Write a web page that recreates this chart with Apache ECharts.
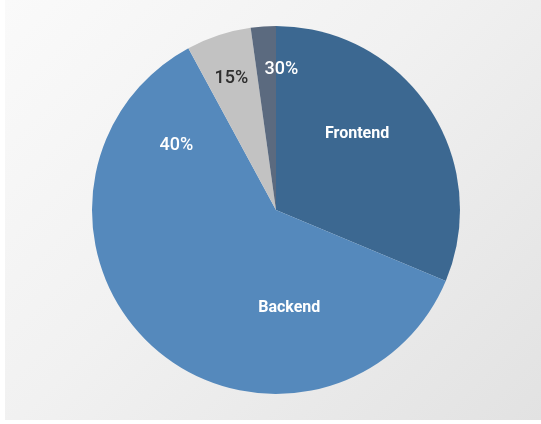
<!DOCTYPE html>
<html>
<head>
<meta charset="utf-8">
<script src="https://cdn.jsdelivr.net/npm/echarts@6/dist/echarts.min.js"></script>
<style>
html,body{margin:0;padding:0;background:#ffffff;width:541px;height:424px;overflow:hidden;}
#chart{position:absolute;left:5px;top:0;width:536px;height:420px;
background:linear-gradient(135deg,#fafafa 0%,#f1f1f1 45%,#e2e2e2 100%);}
</style>
</head>
<body>
<div id="chart"></div>
<script>
// Data
var categories = ['Frontend', 'Backend', 'Other', 'Misc'];
var values = [31.3, 60.8, 5.7, 2.2];
var nameLabels = ['Frontend', 'Backend', '', ''];
var percentLabels = ['', '40%', '15%', '30%'];

// Styles (not data)
var colors = ['#3c6891', '#5589bc', '#c2c2c2', '#5b6a7f'];
var nameOffsets = [[2, -23], [77, 28], [0, 0], [0, 0]];
var pctOffsets = [[0, 0], [-36, -135], [-15, -41], [12, -46]];
var pctColors = ['#ffffff', '#ffffff', '#2e2e2e', '#ffffff'];

var chart = echarts.init(document.getElementById('chart'), null, {renderer: 'canvas'});

var baseData = categories.map(function (c, i) {
  return {name: c, value: values[i], itemStyle: {color: colors[i]},
    label: {show: nameLabels[i] !== '', formatter: nameLabels[i]}};
});
var pctData = categories.map(function (c, i) {
  return {name: c, value: values[i],
    label: {color: pctColors[i], formatter: percentLabels[i], show: percentLabels[i] !== ''}};
});

chart.setOption({
  animation: false,
  series: [
    {
      type: 'pie',
      center: [271, 210],
      radius: 184,
      startAngle: 90,
      clockwise: true,
      silent: true,
      data: baseData,
      label: {
        position: 'inside',
        color: '#ffffff',
        fontFamily: 'Roboto',
        fontWeight: 'bold',
        fontSize: 16
      },
      labelLine: {show: false},
      labelLayout: function (p) {
        var o = nameOffsets[p.dataIndex];
        return {dx: o[0], dy: o[1]};
      },
      emphasis: {disabled: true}
    },
    {
      type: 'pie',
      center: [271, 210],
      radius: 184,
      startAngle: 90,
      clockwise: true,
      silent: true,
      itemStyle: {color: 'rgba(0,0,0,0)'},
      data: pctData,
      label: {
        position: 'inside',
        fontFamily: 'Roboto',
        fontWeight: 500,
        fontSize: 18
      },
      labelLine: {show: false},
      labelLayout: function (p) {
        var o = pctOffsets[p.dataIndex];
        return {dx: o[0], dy: o[1]};
      },
      emphasis: {disabled: true}
    }
  ]
});
</script>
</body>
</html>
